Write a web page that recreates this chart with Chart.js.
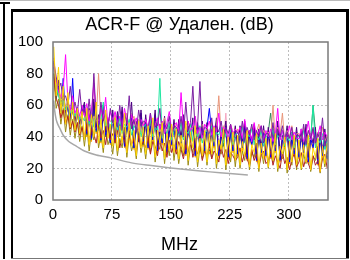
<!DOCTYPE html>
<html>
<head>
<meta charset="utf-8">
<script src="https://cdn.jsdelivr.net/npm/chart.js@4.4.0/dist/chart.umd.min.js"></script>
<style>
  body { margin: 0; background: #fff; }
  #wrap { position: relative; width: 350px; height: 260px; overflow: hidden; }
  #chart { position: absolute; left: 0; top: 0; }
  .ln { position: absolute; background: #000; pointer-events: none; }
</style>
</head>
<body>
<div id="wrap">
  <canvas id="chart" width="350" height="260"></canvas>
  <!-- edge of the neighbouring panel -->
  <div class="ln" style="left:3px; top:2px; width:2px; height:257px;"></div>
  <div class="ln" style="left:0; top:2px; width:10px; height:2px;"></div>
  <!-- this panel's frame -->
  <div class="ln" style="left:11px; top:9px; width:337px; height:3px;"></div>
  <div class="ln" style="left:11px; top:9px; width:2px; height:250px;"></div>
  <div class="ln" style="left:346px; top:9px; width:3px; height:250px;"></div>
  <div class="ln" style="left:11px; top:258px; width:338px; height:1px; background:#777;"></div>
  <div class="ln" style="left:0; top:0; width:350px; height:1px; background:#bbb;"></div>
</div>
<script>
// Frequency points (MHz) shared by all pairs
const freqs = [1, 4, 7, 10, 13, 16, 19, 22, 25, 28, 31, 34, 37,
  40, 43, 46, 49, 52, 55, 58, 61, 64, 67, 70, 73, 76,
  79, 82, 85, 88, 91, 94, 97, 100, 103, 106, 109, 112, 115,
  118, 121, 124, 127, 130, 133, 136, 139, 142, 145, 148, 151, 154,
  157, 160, 163, 166, 169, 172, 175, 178, 181, 184, 187, 190, 193,
  196, 199, 202, 205, 208, 211, 214, 217, 220, 223, 226, 229, 232,
  235, 238, 241, 244, 247, 250, 253, 256, 259, 262, 265, 268, 271,
  274, 277, 280, 283, 286, 289, 292, 295, 298, 301, 304, 307, 310,
  313, 316, 319, 322, 325, 328, 331, 334, 337, 340, 343, 346, 349];

// ACR-F values per pair (dB)
const pairGold = [97, 66, 84, 55, 72, 48, 68, 46, 62, 44, 58, 42, 56,
  38, 58, 35, 54, 40, 62, 36, 51, 33, 57, 39, 48, 34,
  52, 31, 47, 36, 55, 30, 49, 34, 44, 28, 50, 33, 46,
  29, 47, 33, 52, 27, 44, 36, 49, 26, 42, 31, 48, 30,
  45, 26, 41, 30, 50, 25, 43, 33, 47, 24, 39, 28, 44,
  24, 42, 29, 46, 23, 38, 32, 45, 22, 40, 27, 43, 25,
  41, 22, 37, 28, 44, 21, 35, 30, 42, 20, 36, 26, 39,
  21, 39, 25, 42, 20, 34, 29, 40, 19, 37, 24, 41, 22,
  38, 20, 35, 24, 41, 19, 33, 27, 39, 18, 34, 23, 36];
const pairRed = [80, 64, 60, 52, 57, 48, 53, 45, 50, 43, 49, 41, 46,
  40, 48, 37, 45, 42, 36, 47, 39, 44, 35, 46, 38, 42,
  36, 44, 33, 40, 38, 31, 43, 35, 39, 30, 41, 34, 37,
  33, 40, 29, 37, 34, 28, 39, 31, 36, 27, 38, 30, 35,
  29, 37, 32, 26, 35, 30, 38, 27, 33, 29, 36, 25, 31,
  28, 35, 26, 31, 29, 24, 34, 27, 32, 23, 30, 28, 25,
  27, 33, 24, 30, 26, 22, 32, 25, 29, 21, 28, 31, 23,
  25, 31, 22, 28, 24, 20, 30, 23, 27, 19, 26, 29, 21,
  24, 30, 21, 27, 23, 19, 28, 22, 25, 18, 26, 29, 20];
const pairPurple = [88, 78, 70, 74, 63, 66, 60, 72, 57, 62, 55, 70, 54,
  58, 50, 64, 49, 80, 52, 47, 62, 50, 55, 46, 58, 49,
  52, 46, 60, 44, 55, 48, 66, 45, 51, 43, 57, 47, 50,
  49, 44, 55, 42, 50, 47, 58, 41, 48, 45, 53, 40, 47,
  46, 42, 53, 40, 62, 44, 49, 72, 43, 47, 75, 41, 46,
  45, 40, 52, 38, 47, 43, 50, 39, 46, 42, 48, 37, 44,
  43, 39, 50, 37, 46, 41, 48, 38, 44, 40, 47, 36, 42,
  42, 38, 49, 36, 45, 40, 47, 37, 43, 39, 46, 35, 41,
  41, 37, 48, 35, 44, 39, 46, 36, 42, 38, 52, 34, 40];
const pairMagenta = [86, 76, 69, 65, 70, 92, 62, 57, 66, 55, 59, 53, 60,
  53, 61, 50, 57, 74, 52, 48, 58, 51, 65, 47, 56, 50,
  56, 49, 53, 46, 58, 50, 45, 54, 48, 52, 44, 51, 47,
  51, 46, 55, 43, 48, 52, 45, 50, 42, 49, 56, 44, 47,
  49, 43, 68, 46, 41, 50, 44, 47, 53, 42, 46, 39, 48,
  45, 50, 41, 47, 43, 55, 40, 46, 44, 38, 48, 42, 45,
  42, 46, 39, 51, 41, 44, 37, 49, 40, 43, 47, 38, 44,
  40, 45, 37, 42, 58, 38, 44, 36, 41, 47, 38, 43, 39,
  39, 45, 37, 42, 50, 38, 44, 36, 41, 47, 38, 43, 40];
const pairSpring = [83, 72, 66, 61, 64, 57, 60, 55, 57, 53, 58, 51, 53,
  50, 55, 48, 53, 46, 56, 44, 51, 62, 47, 50, 45, 52,
  49, 44, 52, 42, 48, 46, 51, 41, 47, 44, 50, 40, 46,
  48, 43, 51, 40, 46, 44, 77, 39, 45, 42, 49, 38, 44,
  46, 41, 49, 38, 44, 42, 48, 37, 43, 40, 47, 36, 42,
  44, 40, 47, 37, 43, 41, 46, 36, 42, 39, 45, 35, 41,
  43, 39, 46, 36, 42, 40, 45, 35, 41, 38, 44, 34, 40,
  42, 38, 45, 35, 41, 39, 44, 34, 40, 37, 43, 33, 39,
  41, 37, 44, 34, 40, 38, 60, 33, 39, 36, 42, 32, 38];
const pairSalmon = [82, 74, 67, 63, 65, 59, 61, 56, 58, 54, 56, 52, 54,
  55, 50, 57, 48, 53, 51, 80, 49, 54, 47, 52, 50, 48,
  54, 47, 52, 45, 50, 55, 44, 49, 53, 46, 51, 43, 49,
  50, 45, 53, 42, 48, 51, 43, 47, 52, 41, 49, 46, 44,
  48, 44, 51, 40, 47, 50, 42, 46, 53, 39, 45, 48, 41,
  46, 42, 49, 39, 45, 66, 41, 47, 44, 38, 48, 43, 40,
  45, 40, 47, 38, 44, 42, 46, 37, 43, 48, 39, 44, 41,
  43, 39, 60, 37, 46, 41, 55, 36, 44, 40, 47, 38, 42,
  42, 38, 46, 36, 44, 40, 45, 35, 43, 39, 46, 37, 41];
const pairIndigo = [87, 70, 76, 58, 68, 55, 64, 52, 60, 50, 58, 48, 56,
  62, 44, 58, 41, 64, 46, 54, 40, 60, 43, 52, 39, 57,
  41, 56, 44, 59, 37, 52, 43, 62, 36, 50, 40, 57, 38,
  54, 36, 50, 41, 57, 34, 48, 39, 53, 33, 47, 38, 51,
  35, 51, 39, 54, 32, 47, 41, 52, 31, 49, 37, 50, 34,
  49, 33, 45, 37, 52, 31, 43, 39, 50, 30, 46, 34, 47,
  32, 47, 36, 50, 29, 44, 38, 48, 28, 45, 33, 47, 31,
  46, 30, 43, 34, 50, 28, 41, 37, 47, 27, 43, 32, 46,
  30, 45, 33, 48, 27, 42, 36, 46, 26, 43, 31, 45, 29];
const pairBlue = [84, 68, 72, 56, 77, 52, 60, 48, 77, 46, 56, 44, 52,
  60, 42, 55, 39, 62, 44, 50, 38, 57, 41, 48, 36, 54,
  38, 53, 41, 56, 34, 49, 40, 52, 33, 47, 37, 55, 36,
  51, 33, 47, 38, 54, 31, 45, 36, 50, 30, 44, 35, 48,
  32, 48, 36, 51, 29, 44, 38, 49, 28, 46, 34, 47, 31,
  46, 58, 42, 34, 49, 28, 40, 36, 47, 27, 43, 31, 44,
  29, 44, 33, 47, 26, 41, 35, 45, 25, 42, 30, 44, 28,
  43, 27, 40, 31, 47, 25, 38, 34, 44, 24, 40, 29, 43,
  27, 42, 30, 45, 24, 39, 33, 43, 23, 40, 28, 42, 26];
const pairPink = [85, 68, 74, 57, 66, 53, 62, 51, 59, 49, 57, 47, 55,
  59, 43, 56, 40, 78, 45, 52, 39, 58, 42, 49, 38, 55,
  39, 54, 42, 57, 36, 50, 41, 55, 35, 48, 39, 53, 37,
  52, 35, 48, 40, 55, 33, 46, 38, 51, 32, 45, 37, 49,
  34, 49, 37, 52, 31, 45, 40, 50, 30, 47, 35, 48, 33,
  47, 32, 43, 36, 50, 30, 41, 38, 55, 29, 44, 33, 45,
  31, 45, 34, 48, 28, 42, 37, 46, 27, 43, 32, 45, 30,
  44, 29, 41, 33, 48, 27, 39, 35, 45, 26, 41, 31, 44,
  29, 43, 32, 46, 26, 40, 34, 44, 25, 41, 30, 43, 28];
const pairSea = [80, 64, 70, 55, 64, 52, 60, 49, 57, 47, 55, 45, 53,
  57, 41, 54, 38, 60, 43, 50, 37, 56, 40, 47, 36, 53,
  37, 52, 40, 55, 34, 48, 39, 53, 33, 46, 37, 51, 35,
  50, 34, 46, 39, 53, 32, 44, 37, 49, 31, 43, 36, 47,
  33, 47, 36, 50, 30, 43, 39, 48, 29, 45, 34, 46, 32,
  45, 31, 42, 35, 48, 29, 40, 34, 46, 28, 43, 32, 44,
  30, 44, 33, 47, 27, 41, 36, 45, 26, 42, 31, 44, 29,
  43, 55, 40, 32, 47, 26, 38, 34, 44, 25, 40, 30, 43,
  28, 42, 31, 45, 25, 39, 60, 43, 24, 40, 29, 42, 27];
const pairOrange = [90, 64, 75, 54, 66, 50, 63, 47, 60, 45, 57, 43, 55,
  56, 40, 53, 37, 58, 42, 50, 36, 55, 41, 47, 35, 52,
  36, 50, 40, 54, 33, 47, 38, 52, 32, 45, 37, 50, 34,
  48, 32, 44, 37, 51, 30, 46, 35, 49, 29, 43, 34, 47,
  31, 45, 34, 49, 28, 42, 37, 47, 27, 44, 32, 46, 30,
  44, 29, 41, 33, 48, 27, 39, 35, 45, 26, 42, 30, 46,
  28, 42, 31, 45, 25, 39, 34, 44, 24, 40, 29, 43, 27,
  41, 26, 38, 30, 46, 24, 36, 33, 43, 23, 39, 28, 42,
  26, 40, 29, 44, 23, 37, 32, 42, 22, 38, 27, 41, 25];
const pairOlive = [78, 58, 64, 48, 58, 43, 54, 41, 51, 39, 49, 37, 47,
  34, 47, 31, 44, 38, 50, 33, 42, 30, 46, 35, 40, 29,
  43, 28, 39, 33, 46, 27, 41, 31, 37, 26, 42, 30, 38,
  26, 40, 30, 44, 24, 36, 32, 41, 23, 38, 28, 42, 25,
  37, 23, 34, 28, 41, 22, 35, 30, 39, 21, 33, 26, 36,
  22, 36, 26, 40, 20, 32, 29, 38, 19, 34, 24, 37, 21,
  35, 20, 31, 25, 38, 19, 30, 27, 36, 18, 32, 23, 34,
  20, 33, 24, 37, 18, 29, 26, 35, 17, 31, 22, 36, 19,
  32, 19, 29, 23, 36, 18, 28, 25, 34, 17, 30, 21, 31];

// Limit line
const limitFreqs = [1, 2, 4, 6, 9, 13, 20, 30, 40, 55, 75, 100, 125, 150, 175, 200, 225, 248];
const limitValues = [63, 57, 51, 48, 45, 41, 37, 34, 31, 28.5, 26.5, 23.5, 21.8, 20.3, 19, 17.8, 16.8, 15.9];

const xTicks = [0, 75, 150, 225, 300];
const yTicks = [0, 20, 40, 60, 80, 100];

const pairs = [
    { values: pairGold, color: '#FFD700' },
    { values: pairRed, color: '#B22222' },
    { values: pairPurple, color: '#7A1FA2' },
    { values: pairMagenta, color: '#FF00FF' },
    { values: pairSpring, color: '#1EE6A0' },
    { values: pairSalmon, color: '#E9967A' },
    { values: pairIndigo, color: '#4B0082' },
    { values: pairBlue, color: '#0000FF' },
    { values: pairPink, color: '#F4A6C0' },
    { values: pairSea, color: '#2E8B57' },
    { values: pairOrange, color: '#FFA500' },
    { values: pairOlive, color: '#9B8B16' }
];

const datasets = pairs.map(p => ({
    data: p.values.map((v, i) => ({ x: freqs[i], y: v })),
    borderColor: p.color,
    borderWidth: 1,
    pointRadius: 0,
    tension: 0
}));

datasets.push({
    data: limitValues.map((v, i) => ({ x: limitFreqs[i], y: v })),
    borderColor: '#A8A8A8',
    borderWidth: 1.5,
    pointRadius: 0,
    tension: 0.3
});

// Plot frame drawn over the lines
const framePlugin = {
    id: 'frame',
    afterDatasetsDraw(chart) {
        const a = chart.chartArea;
        const ctx = chart.ctx;
        ctx.save();
        ctx.strokeStyle = '#7a7a7a';
        ctx.lineWidth = 1.5;
        ctx.strokeRect(a.left, a.top, a.right - a.left, a.bottom - a.top);
        ctx.restore();
    }
};

const font = { family: "'Liberation Sans', Arial, sans-serif" };
const inner = (list) => (c) => (c.tick && (c.tick.value === list[0] || c.tick.value === list[list.length - 1])) ? 'rgba(0,0,0,0)' : '#bdbdbd';

const ctx = document.getElementById('chart').getContext('2d');
new Chart(ctx, {
    type: 'line',
    data: { datasets: datasets },
    options: {
        responsive: false,
        animation: false,
        devicePixelRatio: 1,
        layout: { padding: { top: 12, left: 11, right: 2, bottom: 4.4 } },
        plugins: {
            legend: { display: false },
            tooltip: { enabled: false },
            title: {
                display: true,
                text: 'ACR-F @ Удален. (dB)',
                color: '#000',
                font: { ...font, size: 18, weight: 'normal' },
                padding: { top: 2.2, bottom: 6.2 }
            },
            subtitle: {
                display: true,
                position: 'bottom',
                text: 'MHz',
                color: '#000',
                font: { ...font, size: 18, weight: 'normal' },
                padding: { top: 4, bottom: 0 }
            }
        },
        scales: {
            x: {
                type: 'linear',
                min: 0,
                max: 350,
                afterBuildTicks: s => { s.ticks = xTicks.map(v => ({ value: v })); },
                ticks: { color: '#000', font: { ...font, size: 15 }, padding: 6, maxRotation: 0 },
                grid: { color: inner([0, 350]), drawTicks: false, lineWidth: 1 },
                border: { display: false, dash: [2, 2] }
            },
            y: {
                min: 0,
                max: 100,
                afterBuildTicks: s => { s.ticks = yTicks.map(v => ({ value: v })); },
                afterFit: s => { s.width = 42; },
                ticks: { color: '#000', font: { ...font, size: 15 }, padding: 10 },
                grid: { color: inner(yTicks), drawTicks: false, lineWidth: 1 },
                border: { display: false, dash: [2, 2] }
            },
            spacer: {
                position: 'right',
                display: true,
                afterFit: s => { s.width = 20; },
                ticks: { display: false },
                grid: { display: false },
                border: { display: false }
            }
        }
    },
    plugins: [framePlugin]
});
</script>
</body>
</html>
